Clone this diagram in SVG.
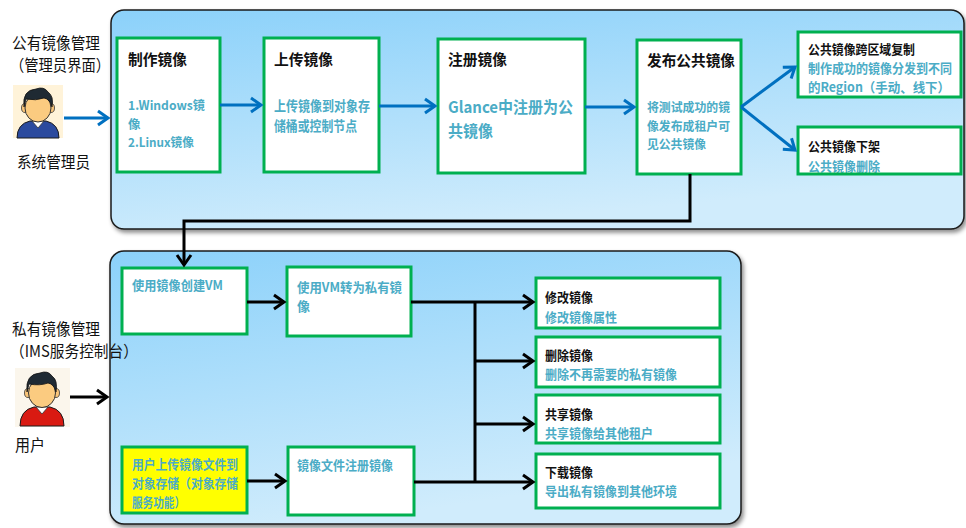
<svg xmlns="http://www.w3.org/2000/svg" width="966" height="528" viewBox="0 0 966 528">
  <style>
    .lbl { font-family: "Noto Sans CJK SC", "Liberation Sans", sans-serif; font-size: 16px; fill: #111; }
    .ttl { font-family: "Noto Sans CJK SC", "Liberation Sans", sans-serif; font-weight: bold; font-size: 15px; fill: #111; }
    .sttl { font-family: "Noto Sans CJK SC", "Liberation Sans", sans-serif; font-weight: bold; font-size: 13px; fill: #111; }
    .txt { font-family: "Noto Sans CJK SC", "Liberation Sans", sans-serif; font-weight: bold; font-size: 14px; fill: #4BACC6; }
    .ntxt { font-family: "Noto Sans CJK SC", "Liberation Sans", sans-serif; font-weight: bold; font-size: 12.5px; fill: #4BACC6; }
    .stxt { font-family: "Noto Sans CJK SC", "Liberation Sans", sans-serif; font-weight: bold; font-size: 13px; fill: #4BACC6; }
    .box { fill: #ffffff; stroke: #00B050; stroke-width: 3; }
    .frame { fill: none; stroke: #00B050; stroke-width: 3; }
    .panel { stroke: #1a1a1a; stroke-width: 1.5; filter: url(#shadow); }
    .blue { fill: none; stroke: #0070C0; stroke-width: 3; marker-end: url(#headBlue); }
    .black { fill: none; stroke: #000; stroke-width: 3; }
    .blackArrow { fill: none; stroke: #000; stroke-width: 3; marker-end: url(#headBlack); }
  </style>
  <defs>
    <linearGradient id="panelFill" x1="0" y1="0" x2="0.35" y2="1">
      <stop offset="0" stop-color="#8BD1FA"/>
      <stop offset="1" stop-color="#D0ECFC"/>
    </linearGradient>
    <filter id="shadow" x="-5%" y="-5%" width="110%" height="115%">
      <feDropShadow dx="2" dy="3" stdDeviation="2" flood-color="#000" flood-opacity="0.45"/>
    </filter>
    <marker id="headBlue" viewBox="-13 -9 16 18" markerWidth="16" markerHeight="18" refX="0" refY="0" orient="auto" markerUnits="userSpaceOnUse">
      <path d="M-10,-7 L0,0 L-10,7" fill="none" stroke="#0070C0" stroke-width="3" stroke-linejoin="miter"/>
    </marker>
    <marker id="headBlack" viewBox="-13 -9 16 18" markerWidth="16" markerHeight="18" refX="0" refY="0" orient="auto" markerUnits="userSpaceOnUse">
      <path d="M-10,-7 L0,0 L-10,7" fill="none" stroke="#000" stroke-width="3" stroke-linejoin="miter"/>
    </marker>
  </defs>

  <rect width="966" height="528" fill="#ffffff"/>

  <!-- background panels -->
  <g id="panels">
    <rect class="panel" x="111" y="10" width="853" height="219" rx="13" fill="url(#panelFill)"/>
    <rect class="panel" x="110" y="251" width="631" height="273" rx="14" fill="url(#panelFill)"/>
  </g>

  <!-- side labels -->
  <g id="admin-label">
    <text class="lbl" x="12" y="49" textLength="88" lengthAdjust="spacingAndGlyphs">公有镜像管理</text>
    <text class="lbl" x="10" y="71" textLength="100" lengthAdjust="spacingAndGlyphs">（管理员界面）</text>
  </g>
  <g id="admin">
    <rect x="13" y="85" width="50" height="53" fill="#FFF3D9"/>
    <path d="M17,138 Q17,124 30,121 L46,121 Q59,124 59,138 Z" fill="#2B4A9E" stroke="#1a1a1a" stroke-width="1"/>
    <path d="M32,121 L38,128 L44,121 Z" fill="#ffffff" stroke="#333" stroke-width="0.8"/>
    <ellipse cx="25" cy="108" rx="3.5" ry="4.5" fill="#F9C57A" stroke="#333" stroke-width="0.8"/>
    <ellipse cx="51" cy="108" rx="3.5" ry="4.5" fill="#F9C57A" stroke="#333" stroke-width="0.8"/>
    <ellipse cx="38" cy="108" rx="13" ry="14" fill="#FBCB80" stroke="#333" stroke-width="1"/>
    <path d="M24,107 Q22,90 36,89 Q44,86 48,92 Q54,96 52,107 Q50,99 44,98 Q36,101 26,99 Z" fill="#1f2a33" stroke="#111" stroke-width="0.8"/>
    <text class="lbl" x="17" y="168" textLength="73" lengthAdjust="spacingAndGlyphs">系统管理员</text>
  </g>

  <g id="user-label">
    <text class="lbl" x="12" y="335" textLength="88" lengthAdjust="spacingAndGlyphs">私有镜像管理</text>
    <text class="lbl" x="10" y="357" textLength="128" lengthAdjust="spacingAndGlyphs">（IMS服务控制台）</text>
  </g>
  <g id="user">
    <rect x="15" y="368" width="55" height="59" fill="#FBF6EC"/>
    <path d="M20,426 Q20,410 34,407 L50,407 Q64,410 64,426 Z" fill="#D91A12" stroke="#1a1a1a" stroke-width="1"/>
    <path d="M36,407 L42,414 L48,407 Z" fill="#ffffff" stroke="#333" stroke-width="0.8"/>
    <ellipse cx="28" cy="393" rx="3.5" ry="4.5" fill="#F9C57A" stroke="#333" stroke-width="0.8"/>
    <ellipse cx="56" cy="393" rx="3.5" ry="4.5" fill="#F9C57A" stroke="#333" stroke-width="0.8"/>
    <ellipse cx="42" cy="393" rx="13.5" ry="14.5" fill="#FBCB80" stroke="#333" stroke-width="1"/>
    <path d="M27,392 Q25,374 40,373 Q48,370 52,376 Q58,380 56,392 Q54,384 48,383 Q40,386 29,384 Z" fill="#1f2a33" stroke="#111" stroke-width="0.8"/>
    <text class="lbl" x="15" y="451" textLength="30" lengthAdjust="spacingAndGlyphs">用户</text>
  </g>

  <!-- public image workflow -->
  <g id="make-image">
    <rect class="box" x="117" y="38" width="103" height="134"/>
    <text class="ttl" x="128" y="65" textLength="59" lengthAdjust="spacingAndGlyphs">制作镜像</text>
    <text class="ntxt" x="128" y="110" textLength="77" lengthAdjust="spacingAndGlyphs">1.Windows镜</text>
    <text class="ntxt" x="128" y="129">像</text>
    <text class="ntxt" x="128" y="147" textLength="66" lengthAdjust="spacingAndGlyphs">2.Linux镜像</text>
  </g>
  <g id="upload-image">
    <rect class="box" x="264" y="38" width="115" height="134"/>
    <text class="ttl" x="274" y="65" textLength="59" lengthAdjust="spacingAndGlyphs">上传镜像</text>
    <text class="txt" x="274" y="111" textLength="96" lengthAdjust="spacingAndGlyphs">上传镜像到对象存</text>
    <text class="txt" x="274" y="131" textLength="83" lengthAdjust="spacingAndGlyphs">储桶或控制节点</text>
  </g>
  <g id="register-image">
    <rect class="box" x="438" y="39" width="147" height="134"/>
    <text class="ttl" x="448" y="65" textLength="59" lengthAdjust="spacingAndGlyphs">注册镜像</text>
    <text class="txt" x="448" y="113" style="font-size:16px" textLength="125" lengthAdjust="spacingAndGlyphs">Glance中注册为公</text>
    <text class="txt" x="448" y="137" style="font-size:16px" textLength="45" lengthAdjust="spacingAndGlyphs">共镜像</text>
  </g>
  <g id="publish-image">
    <rect class="box" x="637" y="40" width="104" height="134"/>
    <text class="ttl" x="647" y="66" textLength="88" lengthAdjust="spacingAndGlyphs">发布公共镜像</text>
    <text class="ntxt" x="647" y="112" textLength="83" lengthAdjust="spacingAndGlyphs">将测试成功的镜</text>
    <text class="ntxt" x="647" y="131" textLength="83" lengthAdjust="spacingAndGlyphs">像发布成租户可</text>
    <text class="ntxt" x="647" y="149" textLength="59" lengthAdjust="spacingAndGlyphs">见公共镜像</text>
  </g>
  <g id="cross-region-copy">
    <rect x="798" y="32" width="163" height="65" fill="#ffffff"/>
    <text class="sttl" x="808" y="54" textLength="107" lengthAdjust="spacingAndGlyphs">公共镜像跨区域复制</text>
    <text class="stxt" x="808" y="73" textLength="144" lengthAdjust="spacingAndGlyphs">制作成功的镜像分发到不同</text>
    <text class="stxt" x="808" y="92" textLength="142" lengthAdjust="spacingAndGlyphs">的Region（手动、线下）</text>
    <rect class="frame" x="798" y="32" width="163" height="65"/>
  </g>
  <g id="unpublish">
    <rect x="798" y="127" width="163" height="47" fill="#ffffff"/>
    <text class="sttl" x="808" y="151" textLength="72" lengthAdjust="spacingAndGlyphs">公共镜像下架</text>
    <text class="stxt" x="808" y="171" textLength="72" lengthAdjust="spacingAndGlyphs">公共镜像删除</text>
    <rect class="frame" x="798" y="127" width="163" height="47"/>
  </g>

  <!-- private image workflow -->
  <g id="create-vm">
    <rect class="box" x="122" y="268" width="125" height="66"/>
    <text class="stxt" x="132" y="290" textLength="91" lengthAdjust="spacingAndGlyphs">使用镜像创建VM</text>
  </g>
  <g id="user-upload">
    <rect x="122" y="447" width="125" height="66" fill="#FFFF00" stroke="#00B050" stroke-width="3"/>
    <text class="stxt" x="132" y="469" textLength="106" lengthAdjust="spacingAndGlyphs">用户上传镜像文件到</text>
    <text class="stxt" x="132" y="488" textLength="106" lengthAdjust="spacingAndGlyphs">对象存储（对象存储</text>
    <text class="stxt" x="132" y="507" textLength="53" lengthAdjust="spacingAndGlyphs">服务功能）</text>
  </g>
  <g id="vm-to-private">
    <rect class="box" x="287" y="267" width="124" height="69"/>
    <text class="stxt" x="297" y="292" textLength="105" lengthAdjust="spacingAndGlyphs">使用VM转为私有镜</text>
    <text class="stxt" x="297" y="311">像</text>
  </g>
  <g id="file-register">
    <rect class="box" x="288" y="447" width="126" height="68"/>
    <text class="stxt" x="297" y="470" textLength="96" lengthAdjust="spacingAndGlyphs">镜像文件注册镜像</text>
  </g>
  <g id="modify-image">
    <rect class="box" x="536" y="278" width="184" height="50"/>
    <text class="sttl" x="545" y="302" textLength="48" lengthAdjust="spacingAndGlyphs">修改镜像</text>
    <text class="stxt" x="545" y="322" textLength="72" lengthAdjust="spacingAndGlyphs">修改镜像属性</text>
  </g>
  <g id="delete-image">
    <rect class="box" x="536" y="337" width="184" height="50"/>
    <text class="sttl" x="545" y="360" textLength="48" lengthAdjust="spacingAndGlyphs">删除镜像</text>
    <text class="stxt" x="545" y="379" textLength="132" lengthAdjust="spacingAndGlyphs">删除不再需要的私有镜像</text>
  </g>
  <g id="share-image">
    <rect class="box" x="536" y="395" width="184" height="48"/>
    <text class="sttl" x="545" y="419" textLength="48" lengthAdjust="spacingAndGlyphs">共享镜像</text>
    <text class="stxt" x="545" y="438" textLength="108" lengthAdjust="spacingAndGlyphs">共享镜像给其他租户</text>
  </g>
  <g id="download-image">
    <rect class="box" x="536" y="454" width="184" height="54"/>
    <text class="sttl" x="545" y="477" textLength="48" lengthAdjust="spacingAndGlyphs">下载镜像</text>
    <text class="stxt" x="545" y="496" textLength="132" lengthAdjust="spacingAndGlyphs">导出私有镜像到其他环境</text>
  </g>

  <!-- connectors -->
  <g id="connectors">
    <path class="blue" d="M64,118 H108"/>
    <path class="blue" d="M220,105 H261"/>
    <path class="blue" d="M379,106 H435"/>
    <path class="blue" d="M585,107 H634"/>
    <path class="blue" d="M741,107 L795,67"/>
    <path class="blue" d="M741,107 L795,150"/>
    <path class="blackArrow" d="M690,174 V221 H184 V265"/>
    <path class="blackArrow" d="M70,397 H107"/>
    <path class="blackArrow" d="M247,302 H284"/>
    <path class="blackArrow" d="M247,481 H285"/>
    <path class="black" d="M475,302 V482"/>
    <path class="blackArrow" d="M411,302 H533"/>
    <path class="blackArrow" d="M475,361 H533"/>
    <path class="blackArrow" d="M475,424 H533"/>
    <path class="blackArrow" d="M414,482 H533"/>
  </g>
</svg>
